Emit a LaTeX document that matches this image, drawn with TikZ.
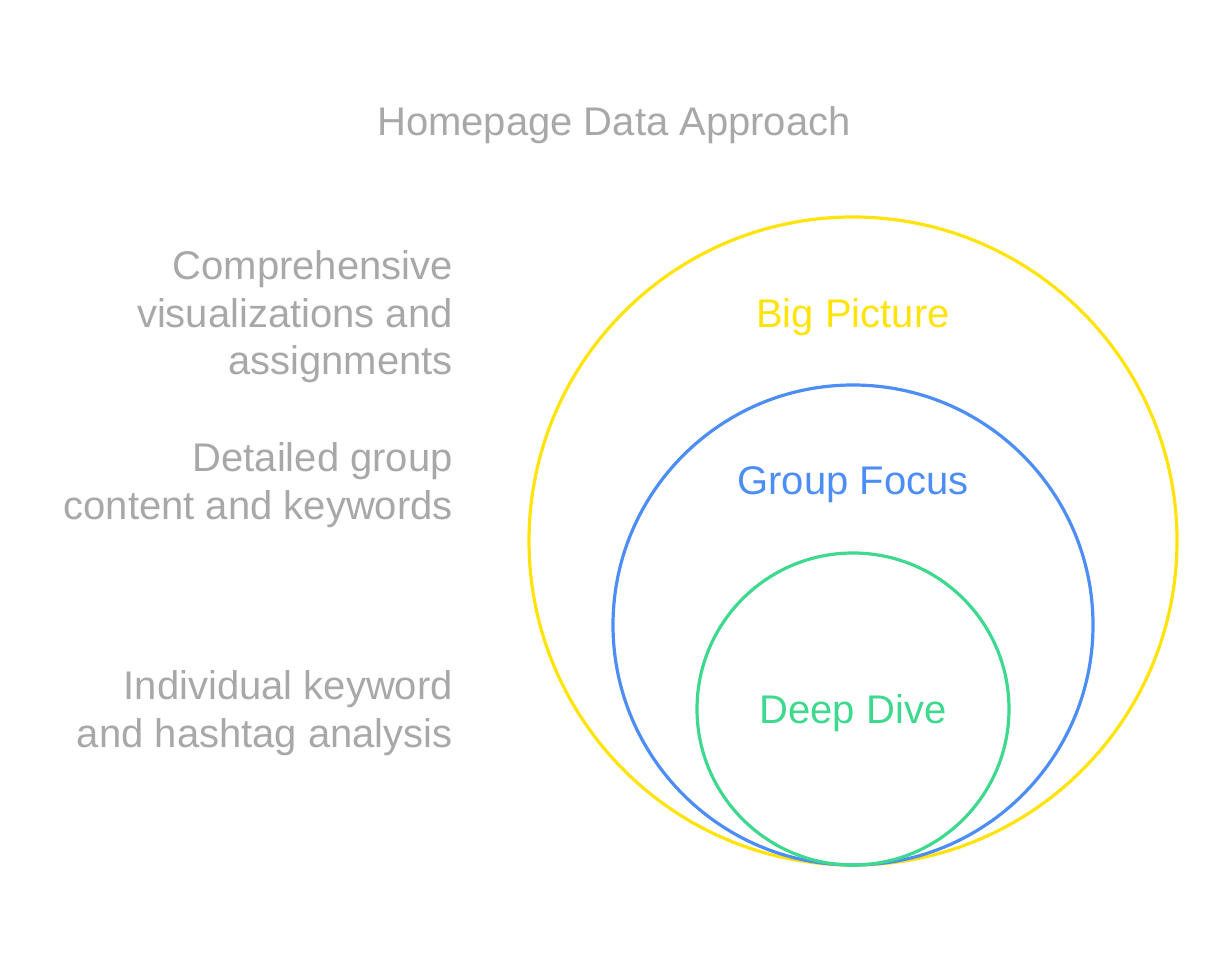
\documentclass[tikz,border=0pt]{standalone}
\usepackage{fontspec}
\setmainfont{Liberation Sans}
\definecolor{bigyellow}{HTML}{FFE30A}
\definecolor{groupblue}{HTML}{4C8DF6}
\definecolor{deepgreen}{HTML}{3ED98E}
\definecolor{txtgray}{HTML}{A8A8A8}
\tikzset{
	ring/.style={circle, draw=#1, line width=3.2pt, inner sep=0pt},
	ringlabel/.style={text=#1, font=\fontsize{40}{47.5}\selectfont, inner sep=0pt},
	sidetext/.style={text=txtgray, font=\fontsize{40}{47.5}\selectfont, align=right, anchor=east, inner sep=0pt}
}

\begin{document}
\begin{tikzpicture}[line cap=round,line join=round,x=1pt,y=-1pt]
		\useasboundingbox (0,0) rectangle (1228,965);
		%titre
		\node[text=txtgray, font=\fontsize{40}{47.5}\selectfont, inner sep=0pt] (title) at (614,125) {Homepage Data Approach};
		%cercles
		\node[ring=bigyellow, minimum size=648pt] (big) at (853,541) {};
		\node[ring=groupblue, minimum size=480pt] (group) at (853,625) {};
		\node[ring=deepgreen, minimum size=312pt] (deep) at (853,709) {};
		%etiquettes des cercles
		\node[ringlabel=bigyellow] (biglbl) at (853,317) {Big Picture};
		\node[ringlabel=groupblue] (grouplbl) at (853,485) {Group Focus};
		\node[ringlabel=deepgreen] (deeplbl) at (853,713) {Deep Dive};
		%textes de gauche
		\node[sidetext] (bigtxt) at (453,317) {Comprehensive\\visualizations and\\assignments};
		\node[sidetext] (grouptxt) at (453,485) {Detailed group\\content and keywords};
		\node[sidetext] (deeptxt) at (453,713) {Individual keyword\\and hashtag analysis};
\end{tikzpicture}
\end{document}
